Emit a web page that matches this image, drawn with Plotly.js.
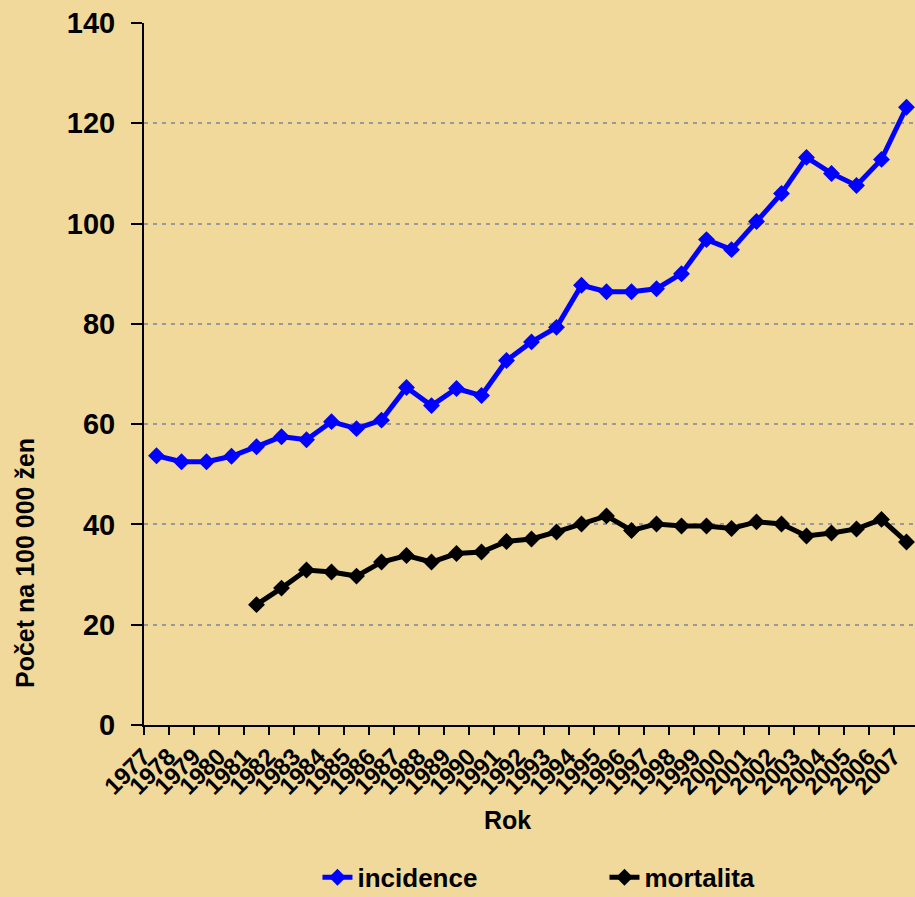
<!DOCTYPE html>
<html>
<head>
<meta charset="utf-8">
<script src="https://cdn.plot.ly/plotly-3.0.1.min.js"></script>
<style>
html,body{margin:0;padding:0;background:#F0D99A;}
#chart{width:915px;height:897px;}
</style>
</head>
<body>
<div id="chart"></div>
<script>
var years = ["1977","1978","1979","1980","1981","1982","1983","1984","1985","1986","1987","1988","1989","1990","1991","1992","1993","1994","1995","1996","1997","1998","1999","2000","2001","2002","2003","2004","2005","2006","2007"];
var incidence = [53.7,52.5,52.5,53.6,55.5,57.5,56.9,60.5,59.1,60.8,67.3,63.7,67.1,65.7,72.7,76.4,79.3,87.7,86.4,86.4,87.0,90.0,96.8,94.8,100.4,106.0,113.2,110.0,107.6,112.8,123.2];
var mortalita = [null,null,null,null,24.0,27.3,30.9,30.5,29.7,32.5,33.8,32.5,34.2,34.5,36.6,37.1,38.5,40.1,41.7,38.8,40.1,39.7,39.7,39.2,40.5,40.1,37.7,38.3,39.1,41.0,36.5];
var yTicks = [0,20,40,60,80,100,120,140];

var fontFam = "Liberation Sans, Arial, sans-serif";

var traces = [
  {x: years, y: incidence, name: "incidence", type: "scatter", mode: "lines+markers",
   line: {color: "#0000FF", width: 5}, marker: {symbol: "diamond", size: 13, color: "#0000FF"}},
  {x: years, y: mortalita, name: "mortalita", type: "scatter", mode: "lines+markers",
   line: {color: "#000000", width: 5}, marker: {symbol: "diamond", size: 13, color: "#000000"}, connectgaps: false}
];

var layout = {
  width: 915, height: 897,
  paper_bgcolor: "#F0D99A", plot_bgcolor: "#F0D99A",
  margin: {l: 144, r: 0, t: 23, b: 172, autoexpand: false},
  font: {family: fontFam, color: "#000"},
  showlegend: true,
  legend: {orientation: "h", x: 0.225, xanchor: "left", y: -0.217, yanchor: "middle",
    font: {size: 26, family: fontFam, weight: "bold"}, entrywidth: 242, entrywidthmode: "pixels",
    bgcolor: "rgba(0,0,0,0)"},
  xaxis: {type: "category", range: [-0.5, 30.34], showgrid: false, zeroline: false,
    showline: true, linecolor: "#000", linewidth: 2, tickmode: "linear", dtick: 1,
    ticks: "outside", ticklen: 8, tickwidth: 2, tickcolor: "#000", tickson: "boundaries",
    ticklabelstandoff: 6, ticklabelshift: -13,
    tickangle: -45, tickfont: {size: 24, family: fontFam, weight: "bold"}, fixedrange: true},
  yaxis: {range: [0, 140], tickvals: yTicks, ticktext: yTicks.map(String),
    showgrid: true, gridcolor: "#999999", gridwidth: 2, griddash: "4px,5px", zeroline: false,
    showline: true, linecolor: "#000", linewidth: 2,
    ticks: "outside", ticklen: 11, tickwidth: 2, tickcolor: "#000", ticklabelstandoff: 10,
    tickfont: {size: 29, family: fontFam, weight: "bold"}, fixedrange: true},
  annotations: [
    {text: "<b>Rok</b>", xref: "paper", yref: "paper", x: 0.472, y: (725-820)/702, xanchor: "center", yanchor: "middle",
     showarrow: false, font: {size: 25, family: fontFam}},
    {text: "<b>Počet na 100 000 žen</b>", xref: "paper", yref: "paper", x: (25-144)/771, y: (725-563)/702,
     xanchor: "center", yanchor: "middle", textangle: -90, showarrow: false, font: {size: 25, family: fontFam}}
  ]
};

Plotly.newPlot("chart", traces, layout, {displayModeBar: false, staticPlot: true});
</script>
</body>
</html>
